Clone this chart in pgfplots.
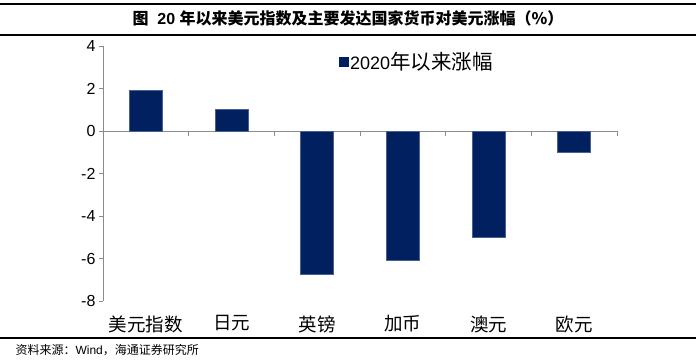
\documentclass[border=0pt]{standalone}
\usepackage{fontspec}
\setmainfont{Liberation Sans}
\newfontfamily\cjk{Noto Sans CJK SC}
\usepackage{pgfplots}
\pgfplotsset{compat=1.18}
\definecolor{barblue}{HTML}{002060}
\definecolor{baredge}{HTML}{4A6090}
\definecolor{axgray}{HTML}{8C8C8C}
\begin{document}
\begin{tikzpicture}
\path[use as bounding box] (0pt,0pt) rectangle (696pt,361pt);
\draw[black, line width=1.2pt] (0pt,357pt) -- (696pt,357pt);
\draw[black, line width=1.2pt] (0pt,326pt) -- (696pt,326pt);
\node[font=\fontsize{16}{18}\selectfont\bfseries] at (348pt,343pt) {{\cjk 图}~~20~{\cjk 年以来美元指数及主要发达国家货币对美元涨幅（\%）}};
\begin{axis}[
  at={(103pt,60pt)}, anchor=south west, scale only axis,
  width=514pt, height=255pt,
  xmin=-0.5, xmax=5.5, ymin=-8, ymax=4,
  axis x line*=middle, axis y line*=left,
  axis line style={axgray, line width=0.8pt},
  ytick={-8,-6,...,4},
  xtick={0,...,5},
  xticklabels={{\cjk 美元指数},{\cjk 日元},{\cjk 英镑},{\cjk 加币},{\cjk 澳元},{\cjk 欧元}},
  minor xtick={0.5,1.5,...,5.5},
  major x tick style={draw=none},
  minor x tick style={axgray, line width=0.8pt},
  y tick style={axgray, line width=0.8pt},
  tick align=outside,
  major tick length=4pt, minor tick length=5pt,
  xticklabel shift=177pt,
  yticklabel style={font=\fontsize{16}{18}\selectfont},
  xticklabel style={font=\fontsize{18.5}{20}\selectfont},
  /pgf/number format/assume math mode=true,
  legend style={at={(0.452,0.937)}, anchor=west, draw=none, fill=none,
    font=\fontsize{18}{20}\selectfont},
  legend image code/.code={\fill[barblue] (0pt,-4.5pt) rectangle (9pt,4.5pt);},
]
\addplot[ybar, bar width=33pt, fill=barblue, draw=baredge, line width=0.5pt]
  coordinates {(0,1.9) (1,1.03) (2,-6.75) (3,-6.07) (4,-4.99) (5,-1.0)};
\addlegendentry{2020{\cjk\fontsize{20.5}{22}\selectfont 年以来涨幅}}
\end{axis}
\draw[black, line width=1.2pt] (0pt,23pt) -- (696pt,23pt);
\node[anchor=west, font=\fontsize{12}{14}\selectfont] at (12pt,11pt) {{\cjk 资料来源：}Wind{\cjk ，海通证券研究所}};
\end{tikzpicture}
\end{document}
